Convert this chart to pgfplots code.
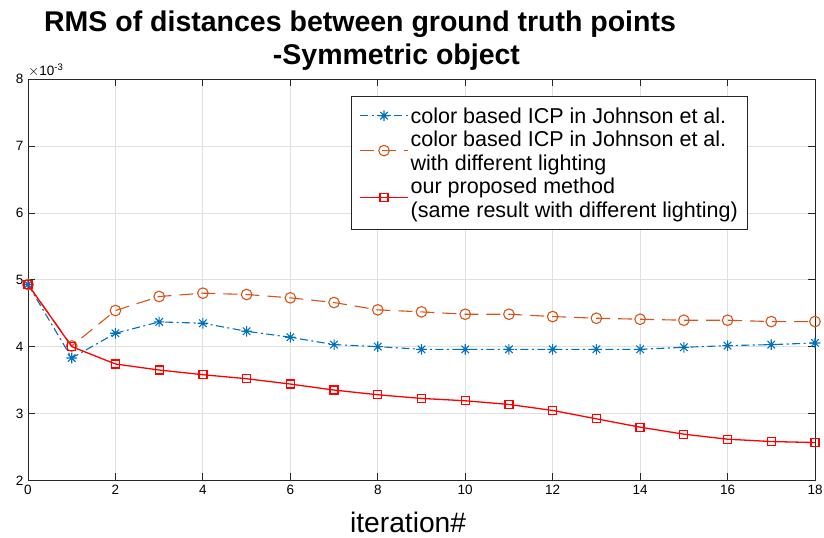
\documentclass[border=0pt]{standalone}
\usepackage{fontspec}
\setmainfont{Liberation Sans}
\usepackage{pgfplots}
\pgfplotsset{compat=1.18}

\definecolor{mblue}{rgb}{0,0.447,0.741}
\definecolor{morange}{rgb}{0.85,0.325,0.098}
\definecolor{mred}{rgb}{1,0,0}
\definecolor{mgrid}{gray}{0.88}
\definecolor{maxis}{gray}{0.15}

% eight-spoke asterisk (a plus and a cross on top of each other)
\pgfdeclareplotmark{asteriskeight}{%
  \pgfpathmoveto{\pgfqpoint{-\pgfplotmarksize}{0pt}}%
  \pgfpathlineto{\pgfqpoint{\pgfplotmarksize}{0pt}}%
  \pgfpathmoveto{\pgfqpoint{0pt}{-\pgfplotmarksize}}%
  \pgfpathlineto{\pgfqpoint{0pt}{\pgfplotmarksize}}%
  \pgfpathmoveto{\pgfqpoint{-0.707\pgfplotmarksize}{-0.707\pgfplotmarksize}}%
  \pgfpathlineto{\pgfqpoint{0.707\pgfplotmarksize}{0.707\pgfplotmarksize}}%
  \pgfpathmoveto{\pgfqpoint{-0.707\pgfplotmarksize}{0.707\pgfplotmarksize}}%
  \pgfpathlineto{\pgfqpoint{0.707\pgfplotmarksize}{-0.707\pgfplotmarksize}}%
  \pgfusepathqstroke}

\begin{document}
\begin{tikzpicture}
\begin{axis}[
  scale only axis,
  width=787pt, height=401pt,
  xmin=0, xmax=18, ymin=0.002, ymax=0.008,
  xtick={0,2,...,18},
  ytick={0.002,0.003,0.004,0.005,0.006,0.007,0.008},
  yticklabels={2,3,4,5,6,7,8},
  scaled y ticks=false,
  grid=major,
  major grid style={mgrid, line width=0.8pt},
  axis line style={maxis, line width=0.8pt},
  tick align=inside,
  tick pos=both,
  xticklabel pos=lower, yticklabel pos=left,
  major tick length=7pt,
  tick style={maxis, line width=0.8pt},
  /pgf/number format/assume math mode=true,
  ticklabel style={font=\fontsize{13.5}{15}\selectfont},
  xticklabel style={yshift=-1pt},
  yticklabel style={xshift=-1pt},
  xlabel={iteration\#},
  xlabel style={at={(axis description cs:0.483,0)}, anchor=base,
    inner sep=0pt, yshift=-52pt, font=\fontsize{28.2}{30}\selectfont},
  legend image code/.code={%
    \draw[mark repeat=2,mark phase=2,#1]
      plot coordinates {(0pt,0pt) (24pt,0pt) (48pt,0pt)};},
  legend style={
    at={(rel axis cs:0.4104,0.9584)}, anchor=north west,
    draw=maxis, line width=0.8pt, fill=white,
    inner xsep=8pt, inner ysep=8pt, row sep=0pt,
    font=\fontsize{21.5}{24.5}\selectfont,
    cells={anchor=west, align=left, inner ysep=0pt},
  },
  clip=false,
]

\addplot[color=mblue, line width=1.1pt, dash pattern=on 8pt off 3.5pt on 2pt off 3.5pt,
  mark=asteriskeight, mark size=5.3pt, mark options={solid, draw=mblue}] coordinates {
  (0,0.00493) (1,0.00383) (2,0.00420) (3,0.00437) (4,0.00435) (5,0.00423)
  (6,0.00414) (7,0.00403) (8,0.00400) (9,0.00396) (10,0.00396) (11,0.00396)
  (12,0.00396) (13,0.00396) (14,0.00396) (15,0.00399) (16,0.004015)
  (17,0.00403) (18,0.004055)};
\addlegendentry{\strut color based ICP in Johnson et al.}

\addplot[color=morange, line width=1.1pt, dash pattern=on 14pt off 8pt,
  mark=o, mark size=5.3pt, mark options={solid, draw=morange}] coordinates {
  (0,0.00493) (1,0.00401) (2,0.00454) (3,0.00475) (4,0.00480) (5,0.00478)
  (6,0.00473) (7,0.00466) (8,0.00455) (9,0.00452) (10,0.004485) (11,0.004485)
  (12,0.00445) (13,0.004425) (14,0.00441) (15,0.004395) (16,0.004395)
  (17,0.004375) (18,0.004375)};
\addlegendentry{\strut color based ICP in Johnson et al.\\\strut with different lighting}

\addplot[color=mred, line width=1.3pt, mark=square, mark size=4pt,
  mark options={solid, draw=mred}] coordinates {
  (0,0.00493) (1,0.00400) (2,0.00374) (3,0.00365) (4,0.00358) (5,0.00352)
  (6,0.00344) (7,0.00335) (8,0.00328) (9,0.003225) (10,0.00319) (11,0.003135)
  (12,0.003045) (13,0.00292) (14,0.002795) (15,0.00269) (16,0.002615)
  (17,0.00258) (18,0.002565)};
\addlegendentry{\strut our proposed method\\\strut (same result with different lighting)}

% exponent of the y axis
\node[anchor=base west, inner sep=0pt, font=\fontsize{13.5}{15}\selectfont]
  at ([yshift=4pt]rel axis cs:0,1) {$\times$10\textsuperscript{-3}};

% two-line title
\node[anchor=base, inner sep=0pt, font=\bfseries\fontsize{28.5}{32}\selectfont]
  at ([yshift=47.6pt]rel axis cs:0.4219,1) {RMS of distances between ground truth points};
\node[anchor=base, inner sep=0pt, font=\bfseries\fontsize{28.5}{32}\selectfont]
  at ([yshift=15.3pt]rel axis cs:0.4682,1) {-Symmetric object};
\end{axis}
\pgfresetboundingbox
\useasboundingbox (-28pt,-57pt) rectangle (796pt,480.3pt);
\end{tikzpicture}
\end{document}
